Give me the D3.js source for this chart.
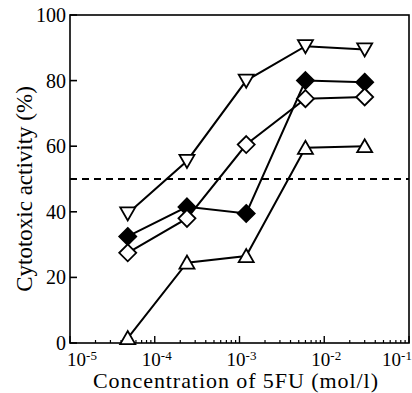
<!DOCTYPE html>
<html lang="en">
  <head>
    <meta charset="utf-8">
    <title>Cytotoxic activity</title>
    <style>
    body { margin: 0; background: #fff; }
    </style>
    <script type="text/javascript" src="https://cdn.jsdelivr.net/npm/d3@7"></script>
  </head>
  <body>
    <script type="text/javascript">

      // 5-fold dilutions of 5FU (mol/l)
      var concentrations = [4.8e-5, 2.4e-4, 1.2e-3, 6e-3, 3e-2];

      // one array per curve
      var downTriangle = [39.5, 55.5, 80, 90.5, 89.5];
      var filledDiamond = [32.5, 41.5, 39.5, 80, 79.5];
      var openDiamond = [27.5, 38, 60.5, 74.5, 75];
      var upTriangle = [1.5, 24.5, 26.5, 59.5, 60];

      var yTicks = [0, 20, 40, 60, 80, 100];
      var xExponents = [-5, -4, -3, -2, -1];
      var threshold = 50;

      var series = [
        { name: "down", values: downTriangle },
        { name: "filled", values: filledDiamond },
        { name: "open", values: openDiamond },
        { name: "up", values: upTriangle }
      ];

      var serif = "'Liberation Serif'";
      var width = 412, height = 393;
      var margin = { top: 15, right: 3, bottom: 50, left: 70 };
      var w = width - margin.left - margin.right;
      var h = height - margin.top - margin.bottom;

      var svg = d3.select("body").append("svg")
          .attr("width", width)
          .attr("height", height);

      var g = svg.append("g")
          .attr("transform", "translate(" + margin.left + "," + margin.top + ")");

      var x = d3.scaleLog().domain([1e-5, 1e-1]).range([0, w]);
      var y = d3.scaleLinear().domain([0, 100]).range([h, 0]);

      // frame
      g.append("rect")
          .attr("width", w).attr("height", h)
          .attr("fill", "none").attr("stroke", "#000").attr("stroke-width", 1.6);

      // y ticks (inward) + labels
      g.selectAll(".ytick").data(yTicks).enter().append("line")
          .attr("x1", 0).attr("x2", 7)
          .attr("y1", d => y(d)).attr("y2", d => y(d))
          .attr("stroke", "#000").attr("stroke-width", 1.6);
      g.selectAll(".ylab").data(yTicks).enter().append("text")
          .attr("x", -4).attr("y", d => y(d))
          .attr("dy", "0.35em")
          .attr("text-anchor", "end")
          .style("font-family", serif)
          .style("font-size", "20px")
          .text(d => d);

      // x ticks: majors and minors, pointing up
      var minors = [];
      for (var e = -5; e < -1; e++) {
        for (var k = 2; k <= 9; k++) minors.push(k * Math.pow(10, e));
      }
      g.selectAll(".xminor").data(minors).enter().append("line")
          .attr("x1", d => x(d)).attr("x2", d => x(d))
          .attr("y1", h).attr("y2", h - 3)
          .attr("stroke", "#000").attr("stroke-width", 1.2);
      g.selectAll(".xmajor").data(xExponents).enter().append("line")
          .attr("x1", d => x(Math.pow(10, d))).attr("x2", d => x(Math.pow(10, d)))
          .attr("y1", h).attr("y2", h - 7)
          .attr("stroke", "#000").attr("stroke-width", 1.4);

      var xl = g.selectAll(".xlab").data(xExponents).enter().append("text")
          .attr("x", d => x(Math.pow(10, d)) + (d === -1 ? -12 : d === -5 ? 12 : 2))
          .attr("y", h + 23)
          .attr("text-anchor", "middle")
          .style("font-family", serif)
          .style("font-size", "19px");
      xl.append("tspan").text("10");
      xl.append("tspan").attr("dy", "-0.45em").style("font-size", "13px").text(d => d);

      // axis titles
      g.append("text")
          .attr("x", (93 - margin.left)).attr("y", h + 45)
          .attr("textLength", 285)
          .style("font-family", serif)
          .style("font-size", "22px")
          .text("Concentration of 5FU (mol/l)");
      svg.append("text")
          .attr("transform", "translate(32,189) rotate(-90)")
          .attr("text-anchor", "middle")
          .style("font-family", serif)
          .style("font-size", "23px")
          .text("Cytotoxic activity (%)");

      // 50% dashed line
      g.append("line")
          .attr("x1", 0).attr("x2", w)
          .attr("y1", y(threshold)).attr("y2", y(threshold))
          .attr("stroke", "#000").attr("stroke-width", 2)
          .attr("stroke-dasharray", "7,5");

      var line = d3.line()
          .x((d, i) => x(concentrations[i]))
          .y(d => y(d));

      g.selectAll(".curve").data(series).enter().append("path")
          .attr("d", d => line(d.values))
          .attr("fill", "none").attr("stroke", "#000").attr("stroke-width", 2);

      function markerPath(name) {
        if (name === "down") return "M-7.5,-6L7.5,-6L0,7Z";
        if (name === "up") return "M-7.5,6L7.5,6L0,-7Z";
        return "M0,-8.5L8.5,0L0,8.5L-8.5,0Z";
      }

      series.forEach(function(s) {
        g.selectAll(".m-" + s.name).data(s.values).enter().append("path")
            .attr("transform", (d, i) => "translate(" + x(concentrations[i]) + "," + y(d) + ")")
            .attr("d", markerPath(s.name))
            .attr("fill", s.name === "filled" ? "#000" : "#fff")
            .attr("stroke", "#000").attr("stroke-width", 1.8);
      });

    </script>
  </body>
</html>
